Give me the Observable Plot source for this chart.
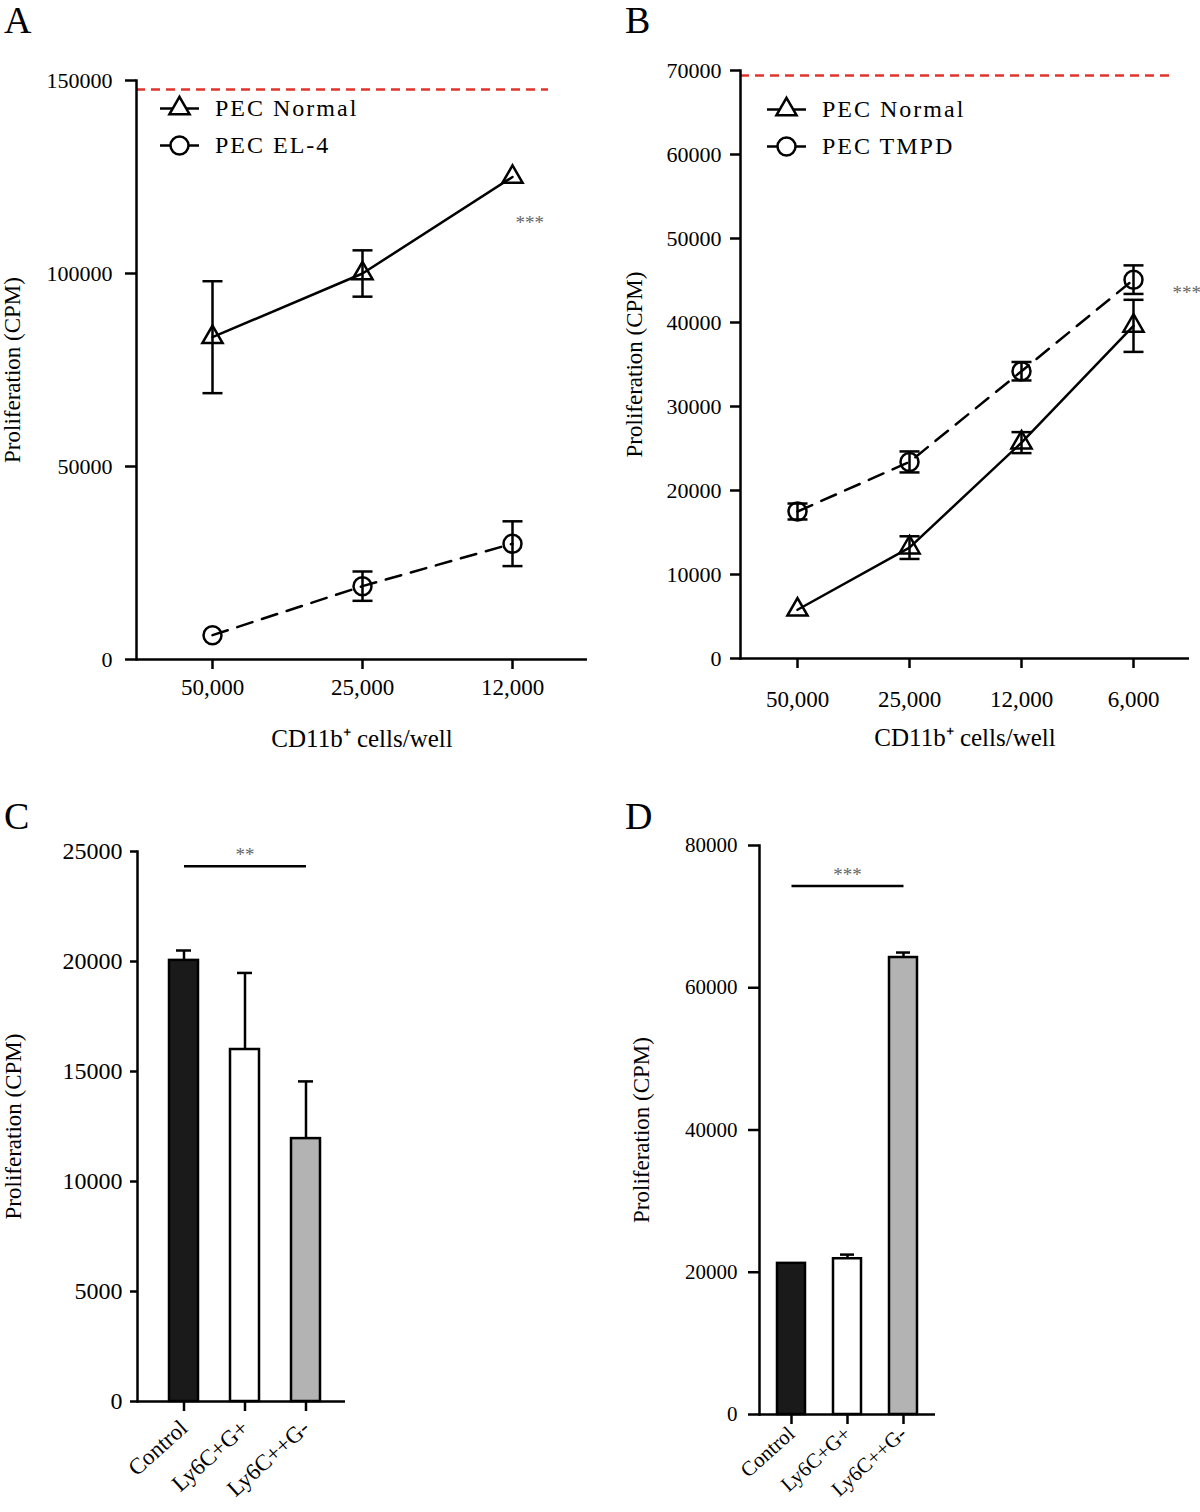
<!DOCTYPE html>
<html><head><meta charset="utf-8">
<script src="https://cdn.jsdelivr.net/npm/d3@7"></script>
<script src="https://cdn.jsdelivr.net/npm/@observablehq/plot@0.6"></script>
<style>
body{margin:0;background:#fff;}
#root{position:relative;width:1200px;height:1512px;background:#fff;font-family:"Liberation Serif","Times New Roman",serif;color:#000;overflow:hidden;}
.panel{position:absolute;}
.panel svg{overflow:visible;}
.letter{position:absolute;font-size:38px;line-height:1;}
.legend{position:absolute;font-size:24px;letter-spacing:2px;}
.legrow{display:flex;align-items:center;height:37px;}
.legrow svg{margin-right:15px;}
</style></head><body><div id="root"></div>
<script>
// ---------- data ----------
const dosesA = ["50,000", "25,000", "12,000"];
const normalA = [83500, 100000, 125000];
const normalAErr = [14500, 6000, 0];
const el4A = [6300, 19000, 30000];
const el4AErr = [0, 3800, 5800];
const refA = 147700;
const starsA = {dose: "12,000", v: 113000, text: "***"};

const dosesB = ["50,000", "25,000", "12,000", "6,000"];
const normalB = [5800, 13200, 25700, 39600];
const normalBErr = [0, 1350, 1250, 3100];
const tmpdB = [17500, 23400, 34200, 45100];
const tmpdBErr = [950, 1250, 1100, 1700];
const refB = 69400;
const starsB = {dose: "6,000", v: 43500, text: "***"};

const groups = ["Control", "Ly6C+G+", "Ly6C++G-"];
const groupFill = ["#1a1a1a", "#ffffff", "#b3b3b3"];
const valuesC = [20050, 16000, 11950];
const errC = [450, 3480, 2600];
const sigC = {from: "Control", to: "Ly6C++G-", mid: "Ly6C+G+", v: 24330, text: "**"};
const valuesD = [21250, 21900, 64250];
const errD = [0, 580, 700];
const sigD = {from: "Control", to: "Ly6C++G-", mid: "Ly6C+G+", v: 74300, text: "***"};

const yLabel = "Proliferation (CPM)";
const xLabel = "CD11b\u207A cells/well";

// ---------- helpers ----------
const root = document.getElementById("root");
const FONT = "Liberation Serif, Times New Roman, serif";
const cap = {draw(ctx, size) { const r = Math.sqrt(size / Math.PI); ctx.moveTo(-r, 0); ctx.lineTo(r, 0); }};

function place(node, left, top) {
  const d = document.createElement("div");
  d.className = "panel"; d.style.left = left + "px"; d.style.top = top + "px";
  d.appendChild(node); root.appendChild(d);
}
function letter(t, left, top) {
  const d = document.createElement("div");
  d.className = "letter"; d.textContent = t; d.style.left = left + "px"; d.style.top = top + "px";
  root.appendChild(d);
}
function legend(items, left, top) {
  const d = document.createElement("div");
  d.className = "legend"; d.style.left = left + "px"; d.style.top = top + "px";
  for (const it of items) {
    const row = document.createElement("div"); row.className = "legrow";
    const s = d3.create("svg").attr("width", 40).attr("height", 37);
    s.append("line").attr("x1", 0).attr("x2", 39).attr("y1", 18.5).attr("y2", 18.5).attr("stroke", "#000").attr("stroke-width", 2.5);
    s.append("path").attr("transform", "translate(19.5,18.5)")
      .attr("d", d3.symbol(it.symbol === "triangle" ? d3.symbolTriangle : d3.symbolCircle, Math.PI * it.r * it.r)())
      .attr("fill", "#fff").attr("stroke", "#000").attr("stroke-width", 2.5);
    row.appendChild(s.node());
    const t = document.createElement("span"); t.textContent = it.label; row.appendChild(t);
    d.appendChild(row);
  }
  root.appendChild(d);
}

function rows(doses, vals, errs, series) {
  return doses.map((d, i) => ({dose: d, v: vals[i], e: errs[i], series}));
}

function linePanel(o) {
  const s1 = rows(o.doses, o.v1, o.e1, o.n1);
  const s2 = rows(o.doses, o.v2, o.e2, o.n2);
  const all = s1.concat(s2).filter(d => d.e > 0);
  return Plot.plot({
    width: 600, height: 760,
    marginLeft: o.ml, marginRight: o.mr, marginTop: o.mt, marginBottom: o.mb,
    style: {fontFamily: FONT, background: "transparent", color: "#000"},
    x: {type: "point", domain: o.doses, padding: 0.5},
    y: {domain: [0, o.yMax]},
    marks: [
      Plot.ruleY([o.ref], {stroke: "#e0342c", strokeWidth: 2.5, strokeDasharray: "9,6", insetRight: o.refInset}),
      Plot.axisY({ticks: o.yTicks, tickFormat: d => String(d), tickSize: o.yTickSize, tickPadding: o.yPad, strokeWidth: 2.5, fontSize: 22, label: null}),
      Plot.axisY({ticks: [], label: yLabel, labelAnchor: "center", labelOffset: o.yLabOff, labelArrow: "none", fontSize: 23}),
      Plot.axisX({tickSize: 10, tickPadding: o.xPad, strokeWidth: 2.5, fontSize: 23, label: null}),
      Plot.axisX({ticks: [], label: xLabel, labelAnchor: "center", labelOffset: 87, labelArrow: "none", fontSize: 25}),
      Plot.frame({anchor: "left", strokeWidth: 2.5}),
      Plot.ruleY([0], {strokeWidth: 2.5}),
      Plot.line(s1, {x: "dose", y: "v", stroke: "#000", strokeWidth: 2.5}),
      Plot.line(s2, {x: "dose", y: "v", stroke: "#000", strokeWidth: 2.5, strokeDasharray: "16,10"}),
      Plot.ruleX(all, {x: "dose", y1: d => d.v - d.e, y2: d => d.v + d.e, stroke: "#000", strokeWidth: 2.5}),
      Plot.dot(all, {x: "dose", y: d => d.v + d.e, symbol: cap, r: 10, stroke: "#000", strokeWidth: 2.5}),
      Plot.dot(all, {x: "dose", y: d => d.v - d.e, symbol: cap, r: 10, stroke: "#000", strokeWidth: 2.5}),
      Plot.dot(s1, {x: "dose", y: "v", symbol: "triangle", r: 7.5, stroke: "#000", strokeWidth: 2.5, fill: "none"}),
      Plot.dot(s2, {x: "dose", y: "v", symbol: "circle", r: 9, stroke: "#000", strokeWidth: 2.5, fill: "none"}),
      Plot.text([o.stars], {x: "dose", y: "v", text: "text", dx: o.starDx, textAnchor: "start", fill: "#666", fontSize: 19})
    ]
  });
}

function barPanel(o) {
  const data = groups.map((g, i) => ({g, v: o.vals[i], e: o.errs[i], fill: groupFill[i]}));
  const withErr = data.filter(d => d.e > 0);
  return Plot.plot({
    width: 600, height: 722,
    marginLeft: o.ml, marginRight: o.mr, marginTop: o.mt, marginBottom: o.mb,
    style: {fontFamily: FONT, background: "transparent", color: "#000"},
    x: {type: "band", domain: groups, paddingInner: o.pi, paddingOuter: o.po, align: o.align},
    y: {domain: [0, o.yMax]},
    color: {type: "identity"},
    marks: [
      Plot.axisY({ticks: o.yTicks, tickFormat: d => String(d), tickSize: o.yTickSize, tickPadding: o.yPad, strokeWidth: 2.5, fontSize: o.yFont, label: null}),
      Plot.axisY({ticks: [], label: yLabel, labelAnchor: "center", labelOffset: o.yLabOff, labelArrow: "none", fontSize: 23}),
      Plot.axisX({tickSize: 10, tickRotate: -42, tickPadding: o.xPad, strokeWidth: 2.5, fontSize: o.xFont, label: null}),
      Plot.ruleX(withErr, {x: "g", y1: "v", y2: d => d.v + d.e, stroke: "#000", strokeWidth: 2.5}),
      Plot.tickY(withErr, {x: "g", y: d => d.v + d.e, stroke: "#000", strokeWidth: 2.5, insetLeft: 7, insetRight: 7}),
      Plot.barY(data, {x: "g", y: "v", fill: "fill", stroke: "#000", strokeWidth: 2.5}),
      Plot.frame({anchor: "left", strokeWidth: 2.5}),
      Plot.ruleY([0], {strokeWidth: 2.5}),
      Plot.link([o.sig], {x1: "from", x2: "to", y1: "v", y2: "v", stroke: "#000", strokeWidth: 2.5}),
      Plot.text([o.sig], {x: "mid", y: "v", text: "text", lineAnchor: "bottom", dy: -5, fill: "#666", fontSize: 19})
    ]
  });
}

// ---------- panels ----------
place(linePanel({
  doses: dosesA, v1: normalA, e1: normalAErr, n1: "PEC Normal", v2: el4A, e2: el4AErr, n2: "PEC EL-4",
  ref: refA, refInset: 39, yMax: 150000, yTicks: [0, 50000, 100000, 150000],
  ml: 136, mr: 13, mt: 80, mb: 101, yTickSize: 11, yPad: 13, yLabOff: 133, xPad: 9,
  stars: starsA, starDx: 3
}), 0, 0);

place(linePanel({
  doses: dosesB, v1: normalB, e1: normalBErr, n1: "PEC Normal", v2: tmpdB, e2: tmpdBErr, n2: "PEC TMPD",
  ref: refB, refInset: 20, yMax: 70000, yTicks: d3.range(0, 70001, 10000),
  ml: 140, mr: 11, mt: 70, mb: 102, yTickSize: 10, yPad: 9, yLabOff: 115, xPad: 22,
  stars: starsB, starDx: 39
}), 600, 0);

place(barPanel({
  vals: valuesC, errs: errC, sig: sigC, yMax: 25000, yTicks: d3.range(0, 25001, 5000),
  ml: 137, mr: 255, mt: 61, mb: 111, pi: 0.53, po: 0.46, align: 0.55,
  yTickSize: 7, yPad: 8, yFont: 24, yLabOff: 133, xFont: 23, xPad: 13
}), 0, 790);

place(barPanel({
  vals: valuesD, errs: errD, sig: sigD, yMax: 80000, yTicks: d3.range(0, 80001, 20000),
  ml: 159, mr: 265, mt: 55, mb: 98, pi: 0.5, po: 0.32, align: 0.5,
  yTickSize: 11, yPad: 11, yFont: 21, yLabOff: 127, xFont: 21, xPad: 6
}), 600, 790);

legend([{symbol: "triangle", r: 7.5, label: "PEC Normal"}, {symbol: "circle", r: 9, label: "PEC EL-4"}], 160, 90);
legend([{symbol: "triangle", r: 7.5, label: "PEC Normal"}, {symbol: "circle", r: 9, label: "PEC TMPD"}], 767, 91);

letter("A", 4, 1);
letter("B", 625, 1);
letter("C", 4, 797);
letter("D", 625, 797);
</script></body></html>
